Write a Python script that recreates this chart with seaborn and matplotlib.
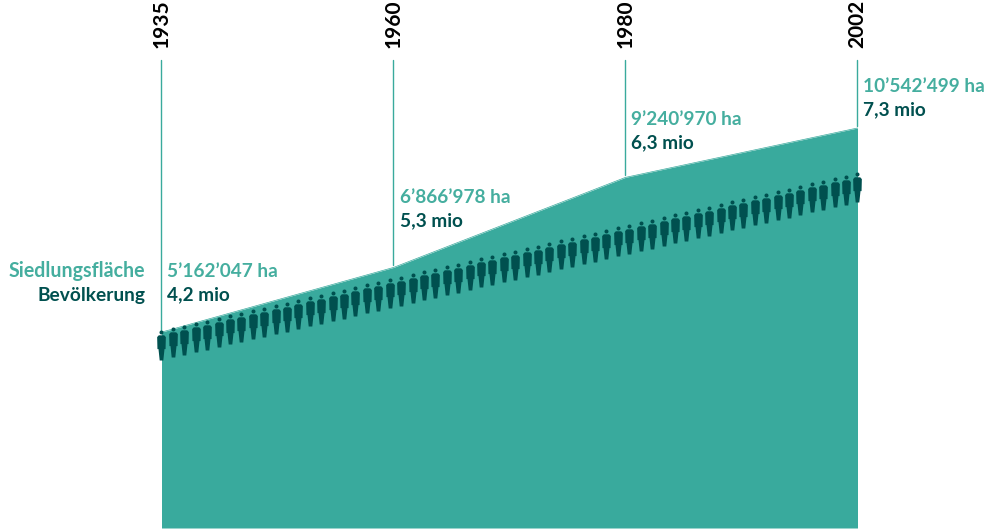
import numpy as np
import pandas as pd
import matplotlib
matplotlib.use("Agg")
import matplotlib.pyplot as plt
from matplotlib.path import Path
import seaborn as sns

years = ["1935", "1960", "1980", "2002"]
settlement_ha = [5162047, 6866978, 9240970, 10542499]
area_labels = ["5’162’047 ha", "6’866’978 ha", "9’240’970 ha", "10’542’499 ha"]
population_labels = ["4,2 mio", "5,3 mio", "6,3 mio", "7,3 mio"]
figure_count = 62

TEAL = "#39aa9d"
TEAL_TEXT = "#45ae9f"
DARK = "#00504f"

sns.set_theme(style="white")
plt.rcParams["font.family"] = ["Lato", "DejaVu Sans"]

W, H = 987, 530
fig = plt.figure(figsize=(W / 100, H / 100), dpi=100)
ax = fig.add_axes([0, 0, 1, 1])
ax.set_axis_off()

# One axis unit on x is one period; the y scale is hectares with zero at the base line.
x_left, x_step = 161.5, 232.0
ha_per_px = 26356.0
base_px = 528.0
ax.set_xlim(-x_left / x_step, (W - x_left) / x_step)
ax.set_ylim(-(H - base_px) * ha_per_px, base_px * ha_per_px)

df = pd.DataFrame({"pos": np.arange(len(years)), "ha": settlement_ha, "year": years})
ax.fill_between(df["pos"], 0, df["ha"], color=TEAL, lw=0, zorder=1)
sns.lineplot(data=df, x="pos", y="ha", color=TEAL, lw=0.5, ax=ax, zorder=1, legend=False)
ax.set_axis_off()

# Vertical guides run from the top of the area up to just under each year.
px = ha_per_px
for i, (year, ha) in enumerate(zip(years, settlement_ha)):
    ax.plot([i, i], [ha + 2 * px, (base_px - 60) * px], color=TEAL, lw=1.0, zorder=0)
    ax.text(i, (base_px - 47.5) * px, year, rotation=90, ha="center", va="bottom",
            fontsize=15, fontweight="bold", color="black")

# Value labels sit to the right of each guide.
label_tops = [271, 197, 119, 86]
for i, (top, a, p) in enumerate(zip(label_tops, area_labels, population_labels)):
    ax.text(i + 6 / x_step, (base_px - top) * px, a, ha="left", va="center",
            fontsize=13.7, fontweight="bold", color=TEAL_TEXT)
    ax.text(i + 6 / x_step, (base_px - top - 24) * px, p, ha="left", va="center",
            fontsize=13.7, fontweight="bold", color=DARK)

ax.text(-16 / x_step, (base_px - 271) * px, "Siedlungsfläche", ha="right", va="center",
        fontsize=14.1, fontweight="bold", color=TEAL_TEXT)
ax.text(-16 / x_step, (base_px - 295) * px, "Bevölkerung", ha="right", va="center",
        fontsize=13.8, fontweight="bold", color=DARK)

# Person pictogram: a round head over a body with arms and tapered legs, one unit tall.
head = Path.circle((0, 0.433), 0.067)
body = Path(
    [(-0.09, 0.34), (0.09, 0.34), (0.145, 0.28), (0.135, -0.12), (0.10, -0.12),
     (0.06, -0.5), (-0.06, -0.5), (-0.10, -0.12), (-0.135, -0.12), (-0.145, 0.28), (-0.09, 0.34)],
    closed=True,
)
person = Path.make_compound_path(head, body)

fig_x = np.linspace(0, 3, figure_count)
fig_y = np.linspace(base_px - 345, base_px - 187, figure_count) * px
people = pd.DataFrame({"x": fig_x, "y": fig_y})
sns.scatterplot(data=people, x="x", y="y", marker=person, s=467, color=DARK,
                linewidth=0, ax=ax, zorder=3, legend=False, snap=False)
ax.set_axis_off()

fig.savefig("out.png", dpi=100, facecolor="white")
